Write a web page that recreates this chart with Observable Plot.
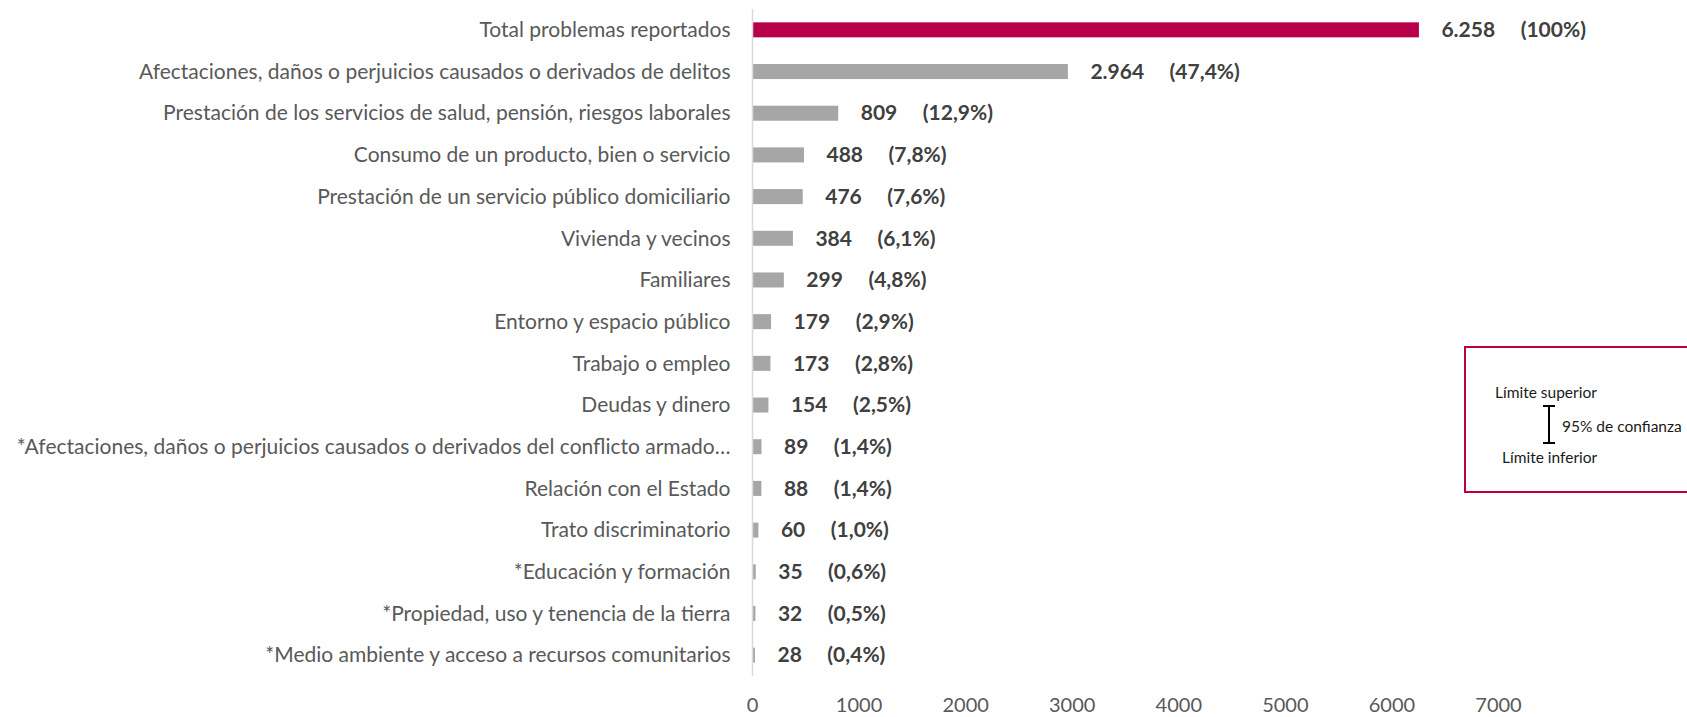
<!DOCTYPE html>
<html>
<head>
<meta charset="utf-8">
<script src="https://cdn.jsdelivr.net/npm/d3@7"></script>
<script src="https://cdn.jsdelivr.net/npm/@observablehq/plot@0.6"></script>
<style>
  html, body { margin: 0; padding: 0; background: #fff; overflow: hidden; }
  #wrap { position: relative; width: 1687px; height: 717px; }
  #legend { position: absolute; left: 0; top: 0; pointer-events: none; }
</style>
</head>
<body>
<div id="wrap"></div>
<script>
// ---- Data ----
const categories = [
  "Total problemas reportados",
  "Afectaciones, daños o perjuicios causados o derivados de delitos",
  "Prestación de los servicios de salud, pensión, riesgos laborales",
  "Consumo de un producto, bien o servicio",
  "Prestación de un servicio público domiciliario",
  "Vivienda y vecinos",
  "Familiares",
  "Entorno y espacio público",
  "Trabajo o empleo",
  "Deudas y dinero",
  "*Afectaciones, daños o perjuicios causados o derivados del conflicto armado…",
  "Relación con el Estado",
  "Trato discriminatorio",
  "*Educación y formación",
  "*Propiedad, uso y tenencia de la tierra",
  "*Medio ambiente y acceso a recursos comunitarios"
];
const values = [6258, 2964, 809, 488, 476, 384, 299, 179, 173, 154, 89, 88, 60, 35, 32, 28];
const pctLabels = ["100%", "47,4%", "12,9%", "7,8%", "7,6%", "6,1%", "4,8%", "2,9%", "2,8%", "2,5%", "1,4%", "1,4%", "1,0%", "0,6%", "0,5%", "0,4%"];
const xTicks = [0, 1000, 2000, 3000, 4000, 5000, 6000, 7000];

const table = categories.map((c, i) => ({cat: c, value: values[i], pct: pctLabels[i], total: i === 0}));

const es = d3.formatLocale({decimal: ",", thousands: ".", grouping: [3], currency: ["", ""]});
const fmt = es.format(",d");
const NB = "\u00a0";
const GAP = NB.repeat(5);

const chart = Plot.plot({
  width: 1687,
  height: 717,
  marginLeft: 752,
  marginRight: 189,
  marginTop: 9,
  marginBottom: 41,
  style: {fontFamily: "Lato, 'Open Sans', sans-serif", background: "#fff"},
  x: {domain: [0, 7000]},
  y: {domain: categories, paddingInner: 0.64, paddingOuter: 0.32, round: false},
  marks: [
    Plot.barX(table, {
      x: "value", y: "cat",
      fill: d => d.total ? "#b8004a" : "#a6a6a6"
    }),
    Plot.ruleX([0], {stroke: "#d9d9d9", strokeWidth: 1.5}),
    Plot.text(table, {
      x: "value", y: "cat",
      text: d => fmt(d.value) + GAP + "(" + d.pct + ")",
      textAnchor: "start", dx: 22,
      fontSize: 21, fontWeight: "bold", fill: "#404040"
    }),
    Plot.axisY({
      tickSize: 0, tickPadding: 22, fontSize: 21, color: "#595959", label: null
    }),
    Plot.axisX({
      ticks: xTicks, tickFormat: d => String(d), tickSize: 0, tickPadding: 21,
      fontSize: 20, color: "#595959", label: null
    })
  ]
});

const wrap = document.getElementById("wrap");
wrap.appendChild(chart);

// ---- Legend (confidence interval explanation box) ----
const lg = d3.select(wrap).append("svg")
  .attr("id", "legend")
  .attr("width", 1687).attr("height", 717)
  .style("font-family", "Lato, 'Open Sans', sans-serif");

lg.append("rect")
  .attr("x", 1465).attr("y", 347).attr("width", 260).attr("height", 145)
  .attr("fill", "none").attr("stroke", "#b8004a").attr("stroke-width", 2);

const ib = lg.append("g").attr("stroke", "#000").attr("stroke-width", 2);
ib.append("line").attr("x1", 1549).attr("x2", 1549).attr("y1", 406).attr("y2", 443);
ib.append("line").attr("x1", 1543).attr("x2", 1555).attr("y1", 406).attr("y2", 406);
ib.append("line").attr("x1", 1543).attr("x2", 1555).attr("y1", 443).attr("y2", 443);

const lt = [
  {t: "Límite superior", x: 1495, y: 393},
  {t: "95% de confianza", x: 1562, y: 427},
  {t: "Límite inferior", x: 1502, y: 458}
];
lg.selectAll("text.lt").data(lt).join("text")
  .attr("class", "lt")
  .attr("x", d => d.x).attr("y", d => d.y)
  .attr("dy", "0.35em")
  .attr("font-size", 15.5).attr("fill", "#1a1a1a")
  .text(d => d.t);
</script>
</body>
</html>
